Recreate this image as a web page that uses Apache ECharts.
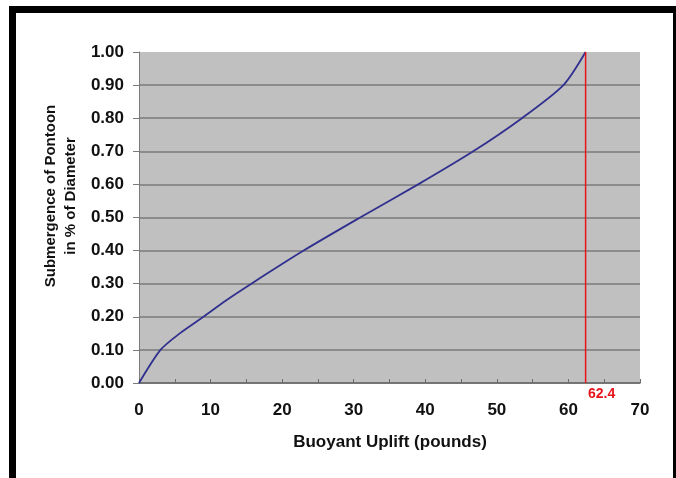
<!DOCTYPE html>
<html>
<head>
<meta charset="utf-8">
<script src="https://cdn.jsdelivr.net/npm/echarts@6/dist/echarts.min.js"></script>
<style>
  html, body { margin: 0; padding: 0; background: #ffffff; overflow: hidden; }
  #wrap { position: relative; width: 676px; height: 478px; overflow: hidden; }
  #chart { position: absolute; left: 0; top: 0; width: 676px; height: 478px; }
  #frame { position: absolute; left: 9px; top: 6px; width: 657px; height: 600px; border: 7px solid #000; pointer-events: none; }
</style>
</head>
<body>
<div id="wrap">
  <div id="chart"></div>
  <div id="frame"></div>
</div>
<script>
// Data
const upliftPounds = [0, 3, 5.7, 9, 12.2, 15.7, 23, 30.9, 39, 46.7, 53.5, 59.3, 62.4];
const submergence  = [0, 0.10, 0.15, 0.20, 0.25, 0.30, 0.40, 0.50, 0.60, 0.70, 0.80, 0.90, 1.00];
const fullUplift = 62.4;
const fullUpliftLabel = '62.4';
const xTitle = 'Buoyant Uplift (pounds)';
const yTitleLines = ['Submergence of Pontoon', 'in % of Diameter'];

const curve = upliftPounds.map((x, i) => [x, submergence[i]]);
const redLine = [
  { value: [fullUplift, 0], label: { show: true, formatter: fullUpliftLabel } },
  { value: [fullUplift, 1] }
];

const font = 'Liberation Sans, Arial, sans-serif';
const chart = echarts.init(document.getElementById('chart'));
chart.setOption({
  animation: false,
  backgroundColor: '#ffffff',
  grid: { left: 139, right: 36, top: 52, bottom: 95, show: true, backgroundColor: '#C0C0C0', borderWidth: 0 },
  xAxis: {
    type: 'value', min: 0, max: 70, interval: 5,
    axisLine: { show: true, lineStyle: { color: '#6b6b6b', width: 1.5 } },
    axisTick: { show: true, inside: true, length: 4, lineStyle: { color: '#6b6b6b', width: 1 } },
    axisLabel: {
      margin: 19, color: '#111', fontFamily: font, fontWeight: 'bold', fontSize: 17,
      formatter: v => (Math.round(v) % 10 === 0 ? String(v) : '')
    },
    splitLine: { show: false }
  },
  yAxis: {
    type: 'value', min: 0, max: 1, interval: 0.1,
    axisLine: { show: true, lineStyle: { color: '#7a7a7a', width: 1 } },
    axisTick: { show: true, inside: false, length: 6, lineStyle: { color: '#7a7a7a', width: 1 } },
    axisLabel: {
      margin: 15, color: '#111', fontFamily: font, fontWeight: 'bold', fontSize: 17,
      formatter: v => v.toFixed(2)
    },
    splitLine: { show: true, showMaxLine: false, lineStyle: { color: '#7a7a7a', width: 1.5 } }
  },
  series: [
    {
      type: 'line', data: curve, symbol: 'none', smooth: 0.25,
      lineStyle: { color: '#30308F', width: 1.8 }, z: 3
    },
    {
      type: 'line', data: redLine, symbol: 'circle', symbolSize: 0, showSymbol: true,
      lineStyle: { color: '#E8141B', width: 1.5 }, itemStyle: { color: '#E8141B' },
      label: {
        position: 'bottom', distance: 4, offset: [16, 0],
        color: '#E8141B', fontFamily: font, fontWeight: 'bold', fontSize: 14
      },
      clip: false, z: 4
    }
  ],
  graphic: [
    {
      type: 'text', x: 390, y: 442,
      style: { text: xTitle, font: 'bold 17px ' + font, fill: '#111', textAlign: 'center', textVerticalAlign: 'middle' }
    },
    {
      type: 'text', x: 61, y: 196, rotation: Math.PI / 2,
      style: {
        text: yTitleLines.join('\n'), font: 'bold 15px ' + font, fill: '#111',
        textAlign: 'center', textVerticalAlign: 'middle', lineHeight: 20
      }
    }
  ]
});
</script>
</body>
</html>
